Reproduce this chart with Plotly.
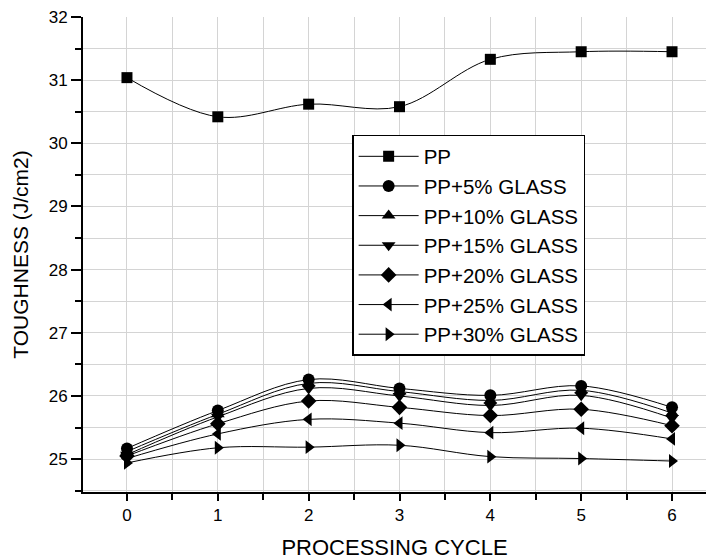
import plotly.graph_objects as go

cycles = [0, 1, 2, 3, 4, 5, 6]
series_names = ["PP", "PP+5% GLASS", "PP+10% GLASS", "PP+15% GLASS",
                "PP+20% GLASS", "PP+25% GLASS", "PP+30% GLASS"]
pp = [31.04, 30.42, 30.62, 30.58, 31.33, 31.45, 31.45]
pp5 = [25.17, 25.77, 26.26, 26.12, 26.01, 26.16, 25.82]
pp10 = [25.12, 25.71, 26.20, 26.07, 25.93, 26.09, 25.73]
pp15 = [25.07, 25.67, 26.12, 26.00, 25.85, 26.01, 25.65]
pp20 = [25.05, 25.56, 25.92, 25.82, 25.69, 25.79, 25.53]
pp25 = [25.01, 25.40, 25.63, 25.57, 25.42, 25.49, 25.32]
pp30 = [24.94, 25.18, 25.19, 25.22, 25.04, 25.01, 24.97]
all_values = [pp, pp5, pp10, pp15, pp20, pp25, pp30]
symbols = ["square", "circle", "triangle-up", "triangle-down", "diamond",
           "triangle-left", "triangle-right"]
sizes = [11, 12, 12, 12, 12, 12, 12]

FONT = "Liberation Sans, Arial"

fig = go.Figure()
for name, vals, sym, sz in zip(series_names, all_values, symbols, sizes):
    fig.add_trace(go.Scatter(
        x=cycles, y=vals, name=name, mode="lines+markers",
        line=dict(color="black", width=1, shape="spline", smoothing=1.0),
        marker=dict(symbol=sym, size=sz, color="black"),
    ))

axis_common = dict(
    showline=True, linecolor="black", linewidth=2,
    ticks="outside", tickwidth=1.5, tickcolor="black",
    showgrid=True, gridcolor="#d4d4d4", gridwidth=1,
    zeroline=False, mirror=False, automargin=False,
    tickfont=dict(family=FONT, size=17, color="black"),
)

fig.update_xaxes(
    range=[-0.484, 6.374], tick0=0, dtick=1, ticklen=7,
    minor=dict(dtick=0.5, ticks="outside", ticklen=6, tickcolor="black",
               tickwidth=1.5, showgrid=True, gridcolor="#d4d4d4"),
    title=dict(text="PROCESSING CYCLE",
               font=dict(family=FONT, size=22, color="black"),
               standoff=16),
    **axis_common,
)
fig.update_yaxes(
    range=[24.48, 32], tick0=25, dtick=1, ticklen=10,
    minor=dict(dtick=0.5, ticks="outside", ticklen=6, tickcolor="black",
               tickwidth=1.5, showgrid=True, gridcolor="#d4d4d4"),
    title=dict(text="TOUGHNESS (J/cm2)",
               font=dict(family=FONT, size=21, color="black"),
               standoff=14),
    **axis_common,
)

fig.update_layout(
    width=706, height=560,
    margin=dict(l=83, r=0, t=17, b=68),
    paper_bgcolor="white", plot_bgcolor="white",
    showlegend=True,
    legend=dict(
        x=0.432, y=0.7516, xanchor="left", yanchor="top",
        bgcolor="white", bordercolor="black", borderwidth=1.5,
        font=dict(family=FONT, size=20.5, color="black"),
        itemwidth=60, tracegroupgap=0,
    ),
)

fig.write_html(
    "out.html",
    config={"displayModeBar": False},
    post_script="document.body.style.margin='0';document.body.style.overflow='hidden';",
)
